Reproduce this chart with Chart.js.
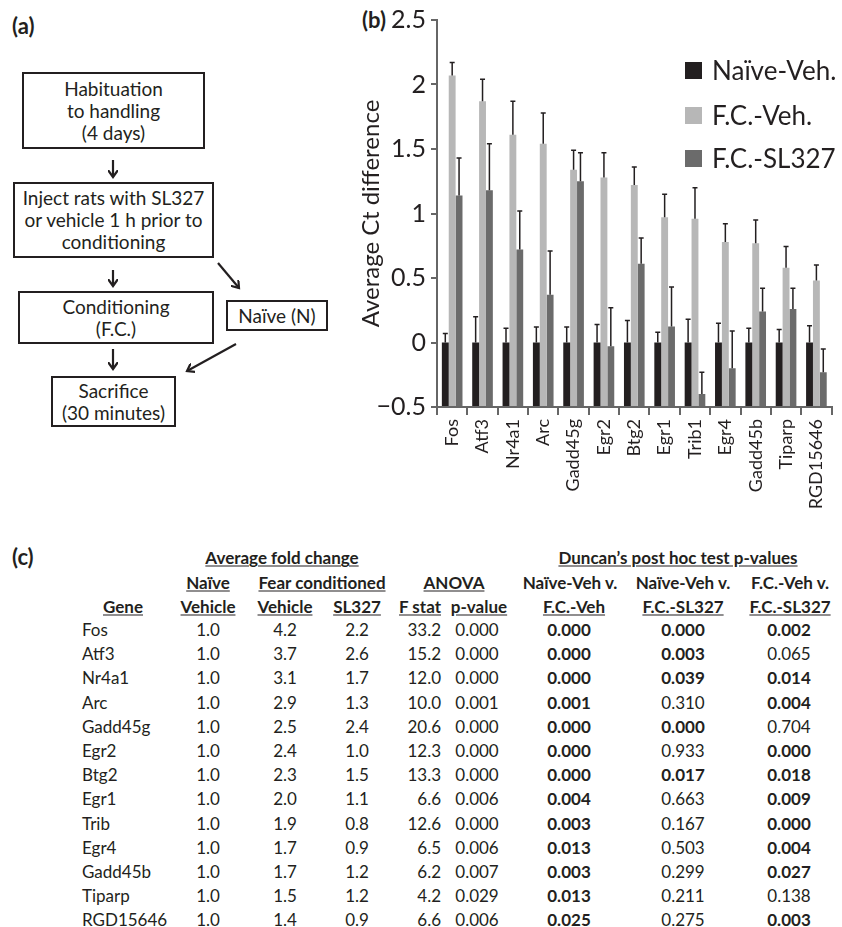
<!DOCTYPE html>
<html>
<head>
<meta charset="utf-8">
<script src="https://cdn.jsdelivr.net/npm/chart.js@4/dist/chart.umd.min.js"></script>
<style>
  body { margin: 0; background: #fff; font-family: 'Lato', sans-serif; color: #231f20; }
  #page { position: relative; width: 842px; height: 927px; overflow: hidden; }
  .lbl { position: absolute; font-weight: bold; font-size: 22px; }
  .box { position: absolute; border: 2px solid #231f20; box-sizing: border-box; display: flex;
         align-items: center; justify-content: center; text-align: center; font-size: 19px; line-height: 22px; }
  #chartWrap { position: absolute; left: 355px; top: 0; width: 487px; height: 520px; }
  .leg { position: absolute; left: 685px; font-size: 26px; display: flex; align-items: center; }
  .leg span.sw { width: 17px; height: 17px; display: inline-block; margin-right: 10px; }
  .t { position: absolute; font-size: 17px; white-space: nowrap; transform: translateY(-50%); }
  .c { transform: translate(-50%, -50%); }
  .r { transform: translate(-100%, -50%); }
  .b { font-weight: bold; }
  .u { text-decoration: underline; text-underline-offset: 2px; }
</style>
</head>
<body>
<div id="page">
  <div class="lbl" style="left:12px;top:12px;">(a)</div>
  <div class="lbl" style="left:362px;top:6px;">(b)</div>
  <div class="lbl" style="left:12px;top:543px;">(c)</div>

  <div class="box" style="left:22px;top:72px;width:183px;height:77px;">Habituation<br>to handling<br>(4 days)</div>
  <div class="box" style="left:13px;top:182px;width:201px;height:76px;">Inject rats with SL327<br>or vehicle 1 h prior to<br>conditioning</div>
  <div class="box" style="left:18px;top:291px;width:196px;height:53px;">Conditioning<br>(F.C.)</div>
  <div class="box" style="left:226px;top:300px;width:102px;height:31px;">Naïve (N)</div>
  <div class="box" style="left:51px;top:376px;width:125px;height:51px;">Sacrifice<br>(30 minutes)</div>
  <svg style="position:absolute;left:0;top:0" width="350" height="430">
    <defs>
      <marker id="ah" markerWidth="10" markerHeight="10" refX="7" refY="5" orient="auto" markerUnits="userSpaceOnUse">
        <path d="M0,0 L7,5 L0,10" fill="none" stroke="#231f20" stroke-width="2.2"/>
      </marker>
    </defs>
    <g stroke="#231f20" stroke-width="2.2" marker-end="url(#ah)">
      <line x1="113" y1="160" x2="113" y2="177"/>
      <line x1="113" y1="270" x2="113" y2="286"/>
      <line x1="113" y1="349" x2="113" y2="369"/>
      <line x1="218" y1="263" x2="239" y2="288"/>
      <line x1="236" y1="344" x2="187" y2="371"/>
    </g>
  </svg>

  <div id="chartWrap"><canvas id="ctChart"></canvas></div>
  <div id="legend"></div>
  <div id="table"></div>
</div>
<script>
const genes = ['Fos', 'Atf3', 'Nr4a1', 'Arc', 'Gadd45g', 'Egr2', 'Btg2', 'Egr1', 'Trib1', 'Egr4', 'Gadd45b', 'Tiparp', 'RGD15646'];
const seriesNames = ['Naïve-Veh.', 'F.C.-Veh.', 'F.C.-SL327'];
const naiveVeh = [0, 0, 0, 0, 0, 0, 0, 0, 0, 0, 0, 0, 0];
const naiveVehErr = [0.07, 0.20, 0.11, 0.12, 0.12, 0.14, 0.17, 0.08, 0.18, 0.15, 0.11, 0.10, 0.13];
const fcVeh = [2.07, 1.87, 1.61, 1.54, 1.34, 1.28, 1.22, 0.97, 0.96, 0.78, 0.77, 0.58, 0.48];
const fcVehErr = [0.10, 0.17, 0.26, 0.24, 0.15, 0.19, 0.14, 0.18, 0.24, 0.14, 0.18, 0.165, 0.12];
const fcSl327 = [1.14, 1.18, 0.72, 0.37, 1.25, -0.03, 0.61, 0.125, -0.40, -0.20, 0.24, 0.26, -0.23];
const fcSl327Err = [0.29, 0.36, 0.30, 0.34, 0.22, 0.30, 0.20, 0.305, 0.17, 0.29, 0.18, 0.16, 0.18];
const yTickLabels = ['\u22120.5', '0', '0.5', '1', '1.5', '2', '2.5'];

// table (c)
const tableGenes = ['Fos', 'Atf3', 'Nr4a1', 'Arc', 'Gadd45g', 'Egr2', 'Btg2', 'Egr1', 'Trib', 'Egr4', 'Gadd45b', 'Tiparp', 'RGD15646'];
const foldNaive = ['1.0', '1.0', '1.0', '1.0', '1.0', '1.0', '1.0', '1.0', '1.0', '1.0', '1.0', '1.0', '1.0'];
const foldFcVeh = ['4.2', '3.7', '3.1', '2.9', '2.5', '2.4', '2.3', '2.0', '1.9', '1.7', '1.7', '1.5', '1.4'];
const foldSl327 = ['2.2', '2.6', '1.7', '1.3', '2.4', '1.0', '1.5', '1.1', '0.8', '0.9', '1.2', '1.2', '0.9'];
const fStat = ['33.2', '15.2', '12.0', '10.0', '20.6', '12.3', '13.3', '6.6', '12.6', '6.5', '6.2', '4.2', '6.6'];
const anovaP = ['0.000', '0.000', '0.000', '0.001', '0.000', '0.000', '0.000', '0.006', '0.000', '0.006', '0.007', '0.029', '0.006'];
const pNaiveVsFcVeh = ['0.000', '0.000', '0.000', '0.001', '0.000', '0.000', '0.000', '0.004', '0.003', '0.013', '0.003', '0.013', '0.025'];
const pNaiveVsFcSl = ['0.000', '0.003', '0.039', '0.310', '0.000', '0.933', '0.017', '0.663', '0.167', '0.503', '0.299', '0.211', '0.275'];
const pFcVehVsFcSl = ['0.002', '0.065', '0.014', '0.004', '0.704', '0.000', '0.018', '0.009', '0.000', '0.004', '0.027', '0.138', '0.003'];

const colors = ['#231f20', '#b7b7b7', '#6b6b6b'];
const errors = [naiveVehErr, fcVehErr, fcSl327Err];

// legend
const legend = document.getElementById('legend');
const legTops = [54, 99, 142];
seriesNames.forEach((name, i) => {
  const d = document.createElement('div');
  d.className = 'leg';
  d.style.top = legTops[i] + 'px';
  d.innerHTML = '<span class="sw" style="background:' + colors[i] + '"></span>' + name;
  legend.appendChild(d);
});

const errorBars = {
  id: 'errorBars',
  afterDatasetsDraw(chart) {
    const ctx = chart.ctx;
    const y = chart.scales.y;
    ctx.save();
    ctx.strokeStyle = '#231f20';
    ctx.lineWidth = 1.5;
    chart.data.datasets.forEach((ds, i) => {
      const meta = chart.getDatasetMeta(i);
      meta.data.forEach((bar, j) => {
        const v = ds.data[j];
        const y0 = y.getPixelForValue(v);
        const y1 = y.getPixelForValue(v + errors[i][j]);
        ctx.beginPath();
        ctx.moveTo(bar.x, y0);
        ctx.lineTo(bar.x, y1);
        ctx.moveTo(bar.x - 2.5, y1);
        ctx.lineTo(bar.x + 2.5, y1);
        ctx.stroke();
      });
    });
    ctx.restore();
  },
};

const data = {
  labels: genes,
  datasets: [naiveVeh, fcVeh, fcSl327].map((vals, i) => ({
    label: seriesNames[i],
    data: vals,
    base: -0.5,
    backgroundColor: colors[i],
    borderWidth: 0,
    barPercentage: 1,
    categoryPercentage: 0.68,
  })),
};

const config = {
  type: 'bar',
  data: data,
  options: {
    responsive: false,
    animation: false,
    layout: { padding: { top: 14, right: 0, bottom: 0, left: 0 } },
    plugins: { legend: { display: false }, tooltip: { enabled: false } },
    scales: {
      y: {
        min: -0.5,
        max: 2.5,
        afterFit: (scale) => { scale.width = 82; },
        border: { color: '#666', width: 2 },
        grid: { drawOnChartArea: false, tickLength: 6, color: '#666', lineWidth: 2 },
        ticks: {
          stepSize: 0.5,
          padding: 5,
          color: '#231f20',
          font: { family: 'Lato', size: 25 },
          callback: (val, idx) => yTickLabels[idx],
        },
        title: {
          display: true,
          text: 'Average Ct difference',
          color: '#231f20',
          font: { family: 'Lato', size: 24 },
          padding: { top: 2, bottom: 0 },
        },
      },
      x: {
        afterFit: (scale) => { scale.height = 113; },
        border: { color: '#666', width: 2 },
        grid: { drawOnChartArea: false, offset: true, tickLength: 8, color: '#666', lineWidth: 2 },
        ticks: {
          minRotation: 90,
          maxRotation: 90,
          autoSkip: false,
          padding: 4,
          color: '#231f20',
          font: { family: 'Lato', size: 18 },
        },
      },
    },
  },
  plugins: [errorBars],
};

const canvas = document.getElementById('ctChart');
canvas.width = 487;
canvas.height = 520;
new Chart(canvas, config);

// build table (c)
const table = document.getElementById('table');
const addText = (text, x, y, cls) => {
  const s = document.createElement('div');
  s.className = 't ' + (cls || '');
  s.style.left = x + 'px';
  s.style.top = y + 'px';
  s.textContent = text;
  table.appendChild(s);
};
addText('Average fold change', 282, 557, 'c b u');
addText('Duncan\u2019s post hoc test p-values', 678, 557, 'c b u');
addText('Naïve', 208, 582, 'c b u');
addText('Fear conditioned', 322, 582, 'c b u');
addText('ANOVA', 454, 582, 'c b u');
addText('Naïve-Veh  v.', 570, 582, 'c b');
addText('Naïve-Veh  v.', 683, 582, 'c b');
addText('F.C.-Veh v.', 790, 582, 'c b');
addText('Gene', 123, 606, 'c b u');
addText('Vehicle', 208, 606, 'c b u');
addText('Vehicle', 285, 606, 'c b u');
addText('SL327', 357, 606, 'c b u');
addText('F stat', 420, 606, 'c b u');
addText('p-value', 479, 606, 'c b u');
addText('F.C.-Veh', 574, 606, 'c b u');
addText('F.C.-SL327', 683, 606, 'c b u');
addText('F.C.-SL327', 790, 606, 'c b u');
tableGenes.forEach((g, i) => {
  const y = 629 + i * 24.2;
  const sig = (p) => (parseFloat(p) < 0.05 ? 'c b' : 'c');
  addText(g, 82, y, '');
  addText(foldNaive[i], 208, y, 'c');
  addText(foldFcVeh[i], 285, y, 'c');
  addText(foldSl327[i], 357, y, 'c');
  addText(fStat[i], 441, y, 'r');
  addText(anovaP[i], 477, y, 'c');
  addText(pNaiveVsFcVeh[i], 569, y, sig(pNaiveVsFcVeh[i]));
  addText(pNaiveVsFcSl[i], 683, y, sig(pNaiveVsFcSl[i]));
  addText(pFcVehVsFcSl[i], 789, y, sig(pFcVehVsFcSl[i]));
});
</script>
</body>
</html>
